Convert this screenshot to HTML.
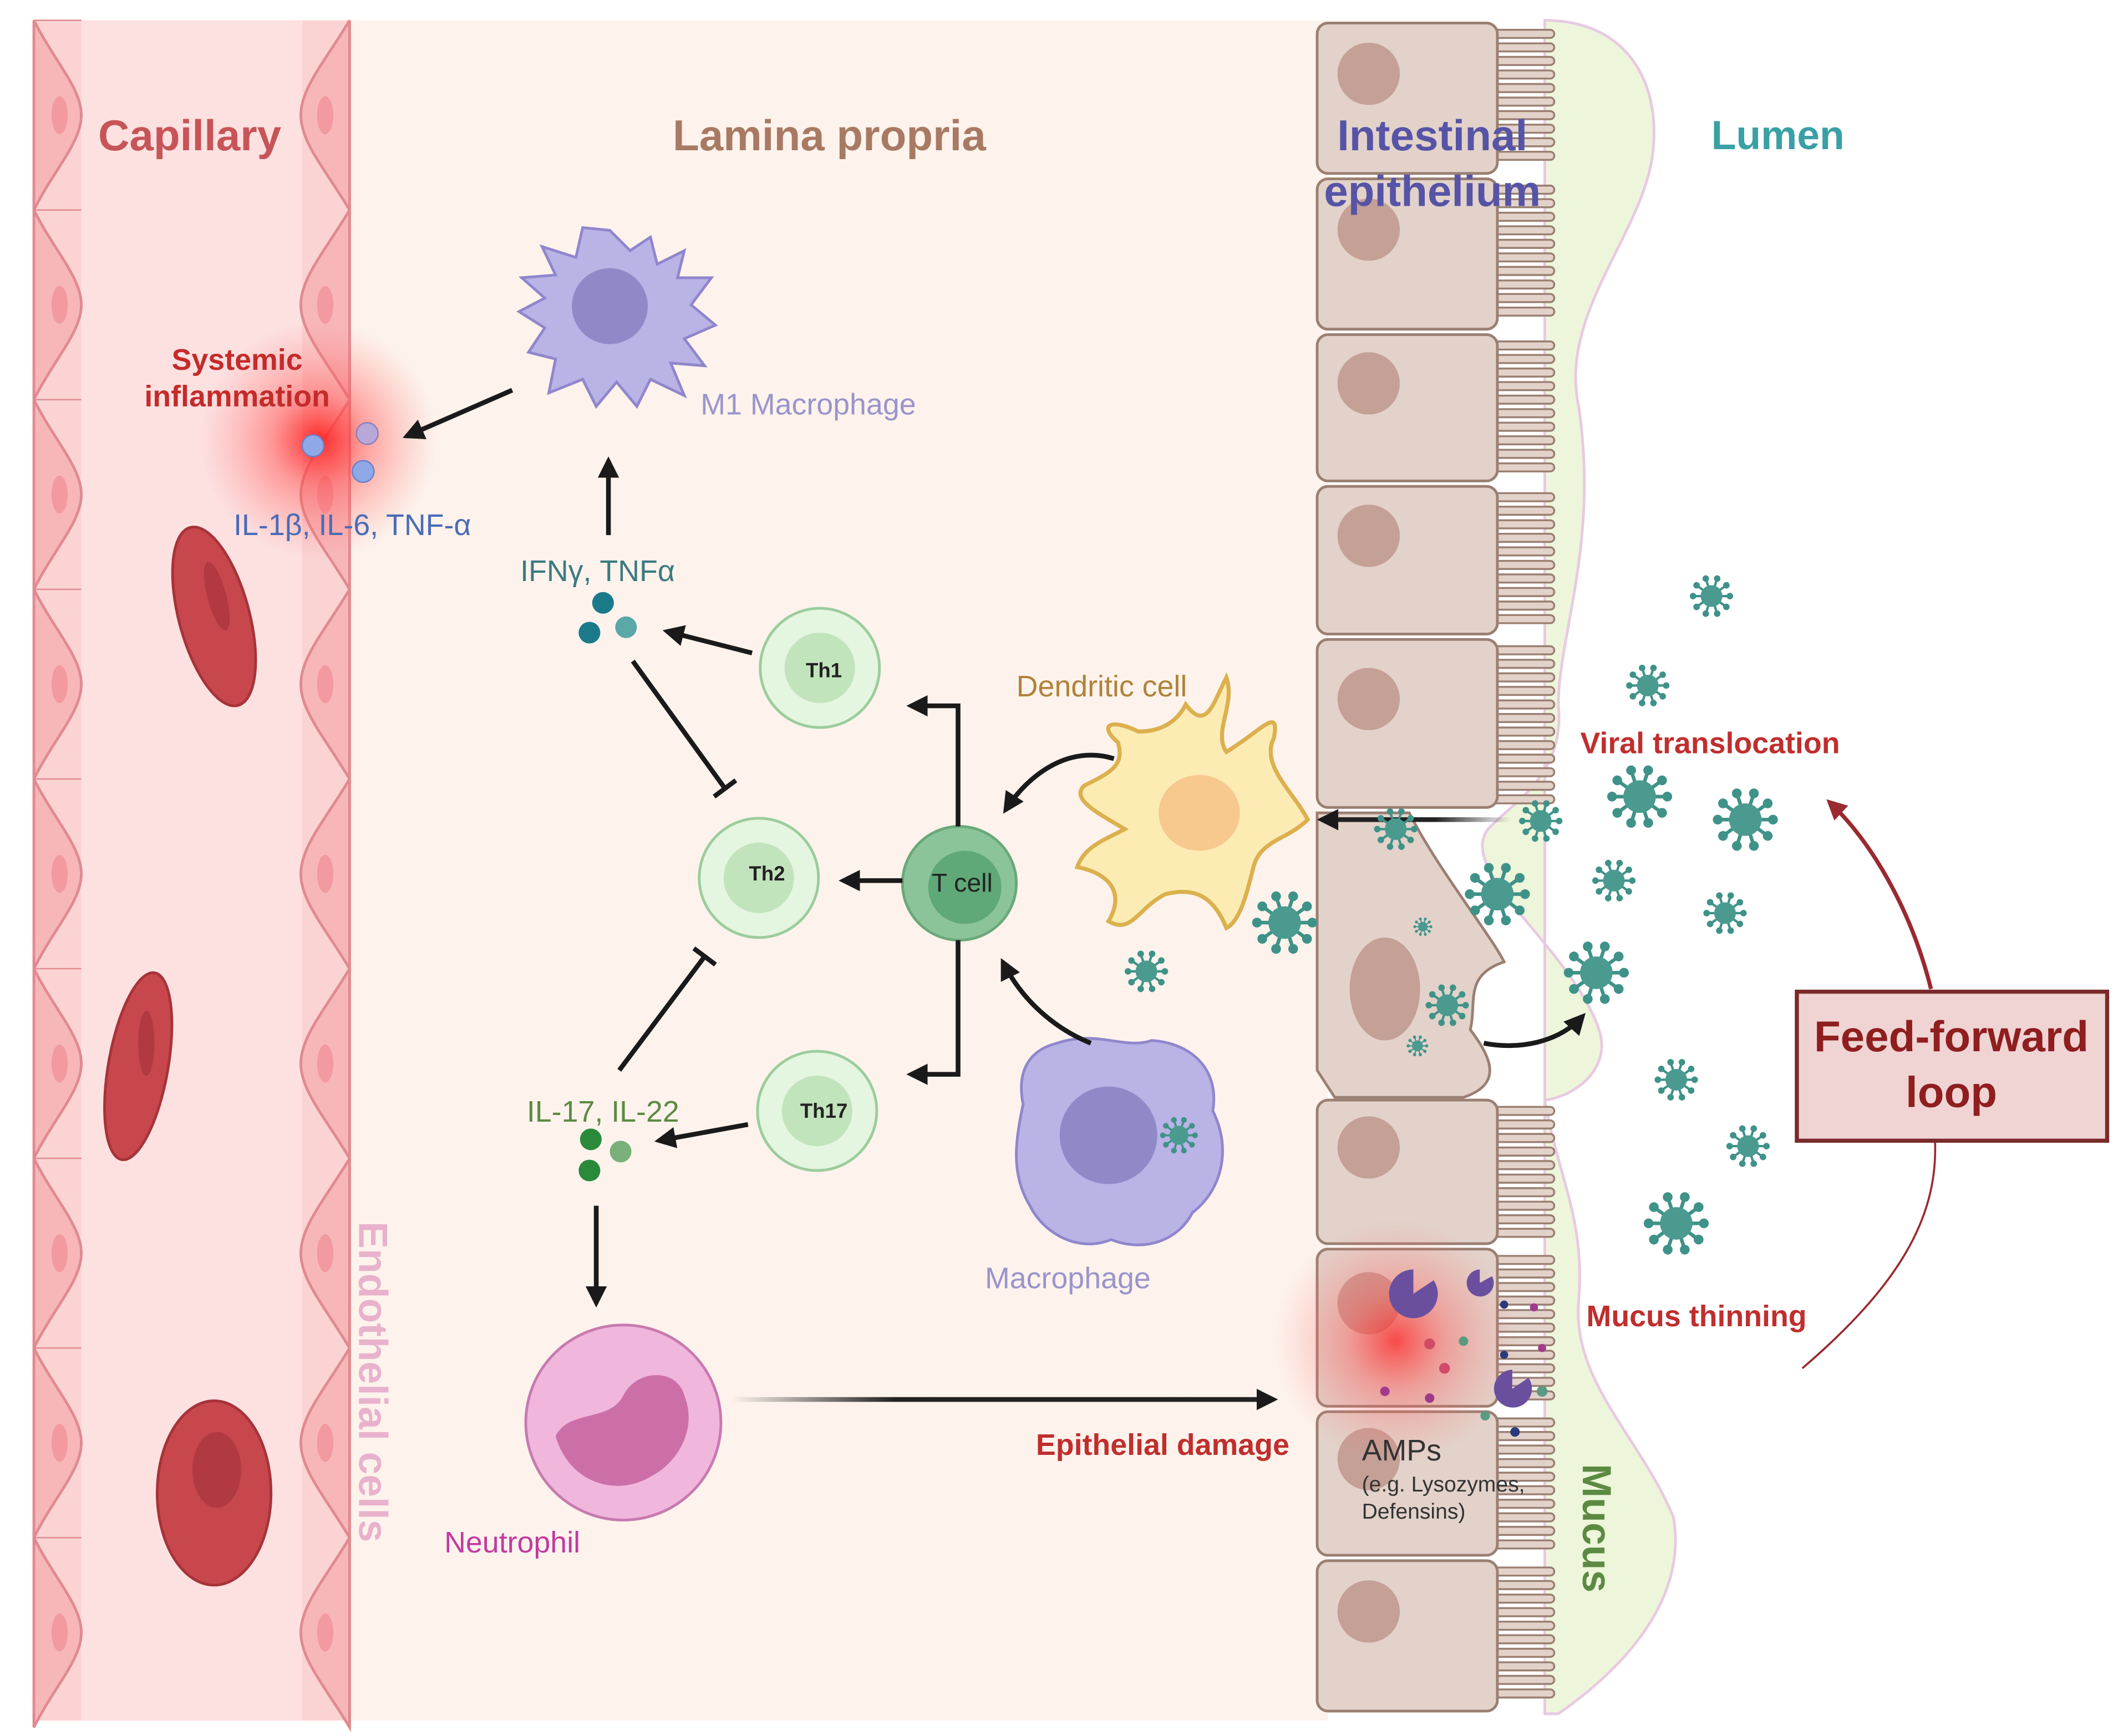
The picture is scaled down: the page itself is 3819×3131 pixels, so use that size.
<!DOCTYPE html>
<html><head><meta charset="utf-8"><style>
html,body{margin:0;padding:0;background:#fff}
svg{display:block}
text{font-family:"Liberation Sans",sans-serif}
</style></head><body>
<svg id="s" width="3819" height="3131" viewBox="0 0 1563 1281.4" preserveAspectRatio="none" xmlns="http://www.w3.org/2000/svg">
<defs>
<radialGradient id="glow" cx="0.5" cy="0.5" r="0.5">
<stop offset="0" stop-color="#ff2020" stop-opacity="0.95"/>
<stop offset="0.4" stop-color="#ff5050" stop-opacity="0.5"/>
<stop offset="1" stop-color="#ff8080" stop-opacity="0"/>
</radialGradient>
<linearGradient id="fadeL" gradientUnits="userSpaceOnUse" x1="1115" y1="0" x2="975" y2="0">
<stop offset="0" stop-color="#222" stop-opacity="0"/><stop offset="0.4" stop-color="#222"/><stop offset="1" stop-color="#222"/>
</linearGradient>
<linearGradient id="fadeR" gradientUnits="userSpaceOnUse" x1="540" y1="0" x2="940" y2="0">
<stop offset="0" stop-color="#222" stop-opacity="0"/><stop offset="0.3" stop-color="#222"/><stop offset="1" stop-color="#222"/>
</linearGradient>
<marker id="ah" viewBox="0 0 10 10" refX="8" refY="5" markerWidth="4.5" markerHeight="4.5" orient="auto"><path d="M0,0L10,5L0,10z" fill="#1a1a1a"/></marker>
<marker id="ahr" viewBox="0 0 10 10" refX="8" refY="5" markerWidth="5" markerHeight="5" orient="auto"><path d="M0,0L10,5L0,10z" fill="#9a2a30"/></marker>
<g id="vir"><g stroke="#3f9288" stroke-width="2.2" fill="#3f9288" id="virg"></g><circle r="10" fill="#4a9a90"/></g>
</defs>
<rect x="0" y="0" width="1563" height="1281.4" fill="#fff"/>
<rect x="255" y="15" width="725" height="1255" fill="#fdf3ec"/>
<rect x="25" y="15" width="233" height="1255" fill="#fbd3d3"/>
<rect x="60" y="15" width="163" height="1255" fill="#fde1e1"/>
<g id="walls"></g>
<circle cx="235" cy="325" r="88" fill="url(#glow)"/>
<g fill="#c7474d" stroke="#a63339" stroke-width="2">
<ellipse cx="158" cy="455" rx="26" ry="68" transform="rotate(-15 158 455)"/>
<ellipse cx="102" cy="787" rx="22" ry="70" transform="rotate(10 102 787)"/>
<ellipse cx="158" cy="1102" rx="42" ry="68"/>
</g>
<g fill="#a8343a" opacity="0.7"><ellipse cx="160" cy="440" rx="7" ry="26" transform="rotate(-15 160 440)"/><ellipse cx="108" cy="770" rx="6" ry="24"/><ellipse cx="160" cy="1085" rx="18" ry="28"/></g>
<path d="M1140,15 C1200,15 1225,60 1220,110 C1215,170 1150,230 1165,300 C1180,400 1150,470 1150,520 C1155,570 1120,590 1100,610 C1070,640 1160,700 1180,760 C1190,790 1160,810 1140,812 C1150,870 1170,900 1165,960 C1160,1020 1210,1060 1235,1120 C1245,1180 1200,1230 1150,1265 L1140,1265 Z" fill="#edf6da" stroke="#e9c9e3" stroke-width="2"/>
<g id="mv" stroke="#9a7f72" stroke-width="1.4"></g>
<g id="epi" fill="#e2d2ca" stroke="#9a7f72" stroke-width="2"></g>
<g id="nuc" fill="#c5a096"></g>
<circle cx="1030" cy="990" r="90" fill="url(#glow)" opacity="0.8"/>
<text x="140" y="111" font-size="32" font-weight="bold" fill="#c75457" text-anchor="middle">Capillary</text>
<text x="612" y="111" font-size="32" font-weight="bold" fill="#a87a63" text-anchor="middle">Lamina propria</text>
<text x="1057" y="111" font-size="32" font-weight="bold" fill="#5654a6" text-anchor="middle">Intestinal</text>
<text x="1057" y="152" font-size="32" font-weight="bold" fill="#5654a6" text-anchor="middle">epithelium</text>
<text x="1312" y="110" font-size="30" font-weight="bold" fill="#3aa0a6" text-anchor="middle">Lumen</text>
<text x="175" y="273" font-size="22" font-weight="bold" fill="#c42b2b" text-anchor="middle">Systemic</text>
<text x="175" y="300" font-size="22" font-weight="bold" fill="#c42b2b" text-anchor="middle">inflammation</text>
<text x="260" y="395" font-size="22" fill="#4a6cb8" text-anchor="middle">IL-1β, IL-6, TNF-α</text>
<text x="517" y="306" font-size="22" fill="#9a94cc">M1 Macrophage</text>
<text x="441" y="429" font-size="22" fill="#3b7b80" text-anchor="middle">IFNγ, TNFα</text>
<text x="813" y="514" font-size="22" fill="#b0823a" text-anchor="middle">Dendritic cell</text>
<text x="1262" y="556" font-size="22" font-weight="bold" fill="#c02e2e" text-anchor="middle">Viral translocation</text>
<text x="445" y="828" font-size="22" fill="#5c8a42" text-anchor="middle">IL-17, IL-22</text>
<text x="788" y="951" font-size="22" fill="#9a94cc" text-anchor="middle">Macrophage</text>
<text x="1252" y="979" font-size="22" font-weight="bold" fill="#c02e2e" text-anchor="middle">Mucus thinning</text>
<text x="858" y="1074" font-size="22" font-weight="bold" fill="#c02e2e" text-anchor="middle">Epithelial damage</text>
<text x="1005" y="1078" font-size="22" fill="#333">AMPs</text>
<text x="1005" y="1101" font-size="16" fill="#333">(e.g. Lysozymes,</text>
<text x="1005" y="1121" font-size="16" fill="#333">Defensins)</text>
<text x="378" y="1146" font-size="22" fill="#c23aa0" text-anchor="middle">Neutrophil</text>
<text transform="translate(1168,1128) rotate(90)" font-size="30" font-weight="bold" fill="#5c8a42" text-anchor="middle">Mucus</text>
<text transform="translate(265,1020) rotate(90)" font-size="30" font-weight="bold" fill="#e9b2cc" text-anchor="middle">Endothelial cells</text>
<rect x="1326" y="732" width="229" height="110" fill="#f0d4d4" stroke="#7a2a2a" stroke-width="3"/>
<text x="1440" y="776" font-size="32" font-weight="bold" fill="#8f1e1e" text-anchor="middle">Feed-forward</text>
<text x="1440" y="817" font-size="32" font-weight="bold" fill="#8f1e1e" text-anchor="middle">loop</text>
<path d="M1330,1010 C1400,950 1430,900 1428,843" fill="none" stroke="#9a2a30" stroke-width="1.5"/>
<path d="M1425,730 C1410,670 1380,620 1350,592" fill="none" stroke="#9a2a30" stroke-width="3" marker-end="url(#ahr)"/>
<circle cx="231" cy="329" r="8" fill="#8fa8e8" stroke="#6b7fc8"/>
<circle cx="271" cy="320" r="8" fill="#b8a8d8" stroke="#8f7fb8"/>
<circle cx="268" cy="348" r="8" fill="#8fa8e8" stroke="#6b7fc8"/>
<circle cx="445" cy="445" r="8" fill="#1b7a8a"/><circle cx="435" cy="467" r="8" fill="#1b7a8a"/><circle cx="462" cy="463" r="8" fill="#5aa8a8"/>
<circle cx="436" cy="841" r="8" fill="#2a8a3a"/><circle cx="435" cy="864" r="8" fill="#2a8a3a"/><circle cx="458" cy="850" r="8" fill="#7ab07a"/>
<path d="M450,170 L465,185 L480,175 L485,195 L505,185 L500,205 L525,205 L510,225 L528,240 L505,250 L520,270 L495,268 L505,292 L480,280 L470,300 L455,282 L440,300 L430,280 L405,290 L410,265 L390,260 L402,242 L383,230 L402,220 L385,205 L410,203 L400,182 L425,190 L430,168 Z" fill="#b9b3e6" stroke="#8f86cc" stroke-width="2"/>
<circle cx="450" cy="226" r="28" fill="#8f89c8"/>
<g stroke="#9ccc9c" stroke-width="2">
<circle cx="605" cy="493" r="44" fill="#e4f5e0"/><circle cx="605" cy="493" r="26" fill="#c2e4bc" stroke="none"/>
<circle cx="560" cy="648" r="44" fill="#e4f5e0"/><circle cx="560" cy="648" r="26" fill="#c2e4bc" stroke="none"/>
<circle cx="603" cy="820" r="44" fill="#e4f5e0"/><circle cx="603" cy="820" r="26" fill="#c2e4bc" stroke="none"/>
<circle cx="708" cy="652" r="42" fill="#8cc49a" stroke="#6aa87a"/><circle cx="712" cy="655" r="27" fill="#5fa878" stroke="none"/>
</g>
<text x="608" y="500" font-size="15" font-weight="bold" fill="#222" text-anchor="middle">Th1</text>
<text x="566" y="650" font-size="15" font-weight="bold" fill="#222" text-anchor="middle">Th2</text>
<text x="608" y="825" font-size="15" font-weight="bold" fill="#222" text-anchor="middle">Th17</text>
<text x="710" y="658" font-size="19" fill="#222" text-anchor="middle">T cell</text>
<path d="M905,500 C912,520 895,540 905,555 C930,540 945,520 940,545 C930,565 955,585 965,605 C950,620 930,620 925,640 C920,660 915,680 905,685 C895,660 880,655 860,660 C840,670 835,690 818,680 C830,660 820,645 795,640 C800,625 815,620 830,612 C810,600 790,590 800,580 C820,570 830,565 825,548 C810,535 820,530 840,540 C860,540 870,530 875,520 C890,540 895,520 905,500Z" fill="#fcecb4" stroke="#dcb04e" stroke-width="3"/>
<ellipse cx="885" cy="600" rx="30" ry="28" fill="#f7c98f"/>
<path d="M780,770 C810,760 830,775 850,768 C880,770 900,790 895,820 C910,850 900,880 880,895 C870,915 845,925 820,915 C795,925 770,910 760,890 C745,865 750,840 755,815 C750,790 760,775 780,770Z" fill="#b9b3e6" stroke="#8f86cc" stroke-width="2"/>
<circle cx="818" cy="838" r="36" fill="#8f89c8"/>
<circle cx="460" cy="1050" r="72" fill="#f0b6dc" stroke="#c77aaf" stroke-width="2"/>
<path d="M410,1060 C420,1040 450,1050 460,1030 C470,1010 500,1010 505,1030 C515,1055 500,1080 480,1090 C455,1105 420,1095 410,1060Z" fill="#cc6fa8"/>
<g stroke="#1a1a1a" stroke-width="3.5" fill="none">
<path d="M378,288 L300,322" marker-end="url(#ah)"/>
<path d="M449,395 L449,340" marker-end="url(#ah)"/>
<path d="M555,482 L492,466" marker-end="url(#ah)"/>
<path d="M467,488 L535,582"/><path d="M527,588 L543,576"/>
<path d="M457,790 L520,706"/><path d="M512,700 L528,712"/>
<path d="M552,830 L486,842" marker-end="url(#ah)"/>
<path d="M440,890 L440,962" marker-end="url(#ah)"/>
<path d="M707,610 L707,521 L672,521" marker-end="url(#ah)"/>
<path d="M666,650 L622,650" marker-end="url(#ah)"/>
<path d="M707,694 L707,793 L672,793" marker-end="url(#ah)"/>
<path d="M822,560 C790,550 760,570 742,598" marker-end="url(#ah)"/>
<path d="M805,770 C780,760 755,740 740,710" marker-end="url(#ah)"/>
<path d="M1095,770 C1120,775 1150,770 1168,750" marker-end="url(#ah)"/>
</g>
<path d="M540,1033 L940,1033" stroke="url(#fadeR)" stroke-width="3.5" fill="none" marker-end="url(#ah)"/>
<path d="M1115,605 L975,605" stroke="url(#fadeL)" stroke-width="3.5" fill="none" marker-end="url(#ah)"/>
<g fill="#6a4f9e"><path d="M1043,955 m0,-18 a18,18 0 1,0 15,8 l-15,10z"/><path d="M1092,947 m0,-10 a10,10 0 1,0 9,5 l-9,5z"/><path d="M1116,1025 m0,-14 a14,14 0 1,0 12,6 l-12,8z"/></g>
<g><circle cx="1132" cy="965" r="3" fill="#a03a8a"/><circle cx="1110" cy="963" r="3" fill="#2a3a7a"/><circle cx="1080" cy="990" r="3.5" fill="#5a9a80"/><circle cx="1055" cy="992" r="4" fill="#d04a6a"/><circle cx="1066" cy="1010" r="4" fill="#d04a6a"/><circle cx="1110" cy="1000" r="3" fill="#2a3a7a"/><circle cx="1138" cy="1027" r="4" fill="#5a9a80"/><circle cx="1096" cy="1045" r="3.5" fill="#5a9a80"/><circle cx="1118" cy="1057" r="3.5" fill="#2a3a7a"/><circle cx="1022" cy="1027" r="3.5" fill="#a03a8a"/><circle cx="1055" cy="1032" r="3.5" fill="#a03a8a"/><circle cx="1138" cy="995" r="3" fill="#a03a8a"/></g>
<g id="viruses"></g>
</svg>
<script>
const NS="http://www.w3.org/2000/svg";
function el(p,t,a){const e=document.createElementNS(NS,t);for(const k in a)e.setAttribute(k,a[k]);p.appendChild(e);return e;}
const w=document.getElementById('walls');
for(let y=15;y<1270;y+=140){
 el(w,'path',{d:`M25,${y} L25,${y+140} C40,${y+110} 60,${y+90} 60,${y+70} C60,${y+50} 40,${y+30} 25,${y}`,fill:'#f7b7b9',stroke:'#e08a90','stroke-width':2});
 el(w,'path',{d:`M258,${y} L258,${y+140} C240,${y+110} 222,${y+90} 222,${y+70} C222,${y+50} 240,${y+30} 258,${y}`,fill:'#f7b7b9',stroke:'#e08a90','stroke-width':2});
 el(w,'ellipse',{cx:44,cy:y+70,rx:6,ry:14,fill:'#f29aa0'});
 el(w,'ellipse',{cx:240,cy:y+70,rx:6,ry:14,fill:'#f29aa0'});
 el(w,'line',{x1:25,y1:y,x2:60,y2:y,stroke:'#e08a90'});
}
const epi=document.getElementById('epi'),mv=document.getElementById('mv'),nuc=document.getElementById('nuc');
const rows=[[15,130],[130,245],[245,357],[357,470],[470,598],[810,920],[920,1040],[1040,1150],[1150,1265]];
rows.forEach(([a,b])=>{
 for(let y=a+10;y<b-6;y+=10){el(mv,'path',{d:`M1100,${y-3} L1144,${y-3} A3,3 0 0 1 1144,${y+3} L1100,${y+3}`,fill:'#e2d2ca'});}
 el(epi,'rect',{x:972,y:a+2,width:133,height:b-a-4,rx:8});
 el(nuc,'circle',{cx:1010,cy:(a+b)/2-18,r:23});
});
el(epi,'path',{d:'M972,600 L1040,600 C1060,640 1100,690 1110,710 C1080,720 1090,740 1085,760 C1100,780 1110,800 1080,810 L985,810 L972,790 Z'});
el(nuc,'ellipse',{cx:1022,cy:730,rx:26,ry:38});
const spk=document.getElementById('virg');
for(let i=0;i<10;i++){const a=i*Math.PI/5;el(spk,'line',{x1:0,y1:0,x2:17*Math.cos(a),y2:17*Math.sin(a)});el(spk,'circle',{cx:17*Math.cos(a),cy:17*Math.sin(a),r:3,stroke:'none'});}
const vg=document.getElementById('viruses');
[[1263,440,.8],[1216,506,.8],[1210,588,1.2],[1288,605,1.2],[1137,606,.8],[1030,612,.8],[1105,660,1.2],[1191,650,.8],[1273,674,.8],[948,681,1.2],[1178,718,1.2],[1050,684,.35],[1068,742,.8],[1046,772,.4],[846,717,.8],[870,838,.7],[1237,797,.8],[1290,846,.8],[1237,903,1.2]].forEach(([x,y,s])=>el(vg,'use',{href:'#vir',transform:`translate(${x},${y}) scale(${s})`}));
</script>
</body></html>
